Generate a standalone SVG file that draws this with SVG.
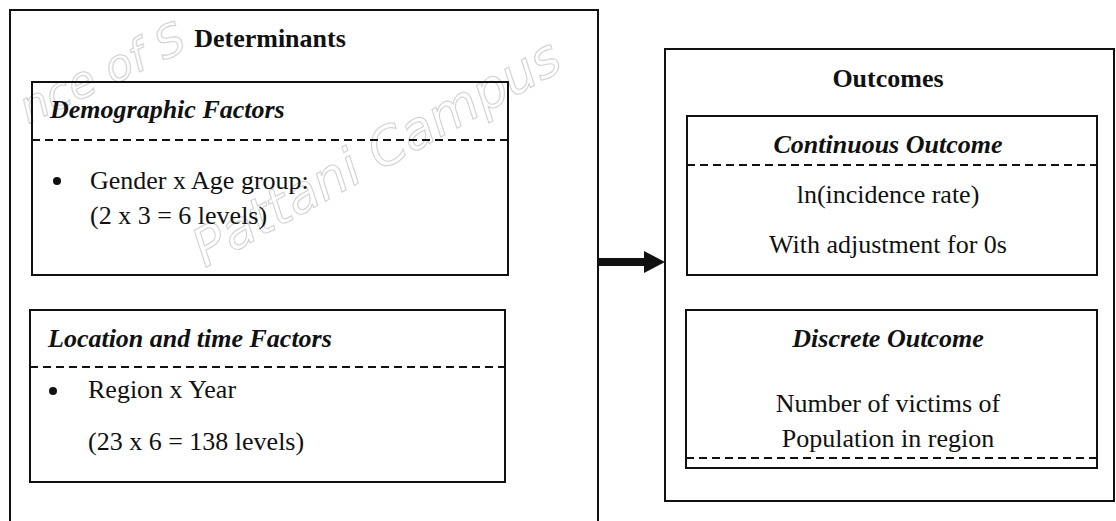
<svg xmlns="http://www.w3.org/2000/svg" width="1116" height="521" viewBox="0 0 1116 521">
<style>
.box{fill:none;stroke:#111;stroke-width:2}
.dash{fill:none;stroke:#111;stroke-width:2;stroke-dasharray:8 5}
.t{font-family:"Liberation Serif","Times New Roman",serif;font-size:26px;fill:#111}
.b{font-weight:bold}
.bi{font-weight:bold;font-style:italic}
.c{text-anchor:middle}
.wm{font-family:"DejaVu Sans",sans-serif;font-style:italic;font-size:52px;fill:none;stroke:#d2d2d2;stroke-width:1.1}
</style>
<rect width="1116" height="521" fill="#fff"/>
<g id="watermark">
<text class="wm" style="font-size:44px" transform="translate(28,124) rotate(-25)">nce of S</text>
<text class="wm" transform="translate(205,268) rotate(-29)">Pattani Campus</text>
</g>
<g id="determinants">
<path class="box" d="M10,521 V10 H598 V521"/>
<text class="t b c" x="270" y="47">Determinants</text>
</g>
<g id="demographic">
<rect class="box" x="32" y="82" width="476" height="193"/>
<line class="dash" x1="32" y1="140" x2="508" y2="140"/>
<text class="t bi" x="50" y="118">Demographic Factors</text>
<circle cx="57" cy="181" r="4" fill="#111"/>
<text class="t" x="90" y="189">Gender x Age group:</text>
<text class="t" x="90" y="224">(2 x 3 = 6 levels)</text>
</g>
<g id="location">
<rect class="box" x="30" y="310" width="475" height="172"/>
<line class="dash" x1="30" y1="367" x2="505" y2="367"/>
<text class="t bi" x="48" y="347">Location and time Factors</text>
<circle cx="53" cy="391" r="4" fill="#111"/>
<text class="t" x="88" y="398">Region x Year</text>
<text class="t" x="88" y="450">(23 x 6 = 138 levels)</text>
</g>
<g id="outcomes">
<rect class="box" x="665" y="49" width="449" height="452"/>
<text class="t b c" x="888" y="87">Outcomes</text>
</g>
<g id="continuous">
<rect class="box" x="687" y="116" width="410" height="159"/>
<line class="dash" x1="687" y1="165" x2="1097" y2="165"/>
<text class="t bi c" x="888" y="153">Continuous Outcome</text>
<text class="t c" x="888" y="203">ln(incidence rate)</text>
<text class="t c" x="888" y="253">With adjustment for 0s</text>
</g>
<g id="discrete">
<rect class="box" x="686" y="310" width="411" height="158"/>
<line class="dash" x1="686" y1="458" x2="1097" y2="458"/>
<text class="t bi c" x="888" y="347">Discrete Outcome</text>
<text class="t c" x="888" y="412">Number of victims of</text>
<text class="t c" x="888" y="447">Population in region</text>
</g>
<g id="connectors">
<line x1="598" y1="262" x2="646" y2="262" stroke="#111" stroke-width="8"/>
<path d="M644,251 L665,262 L644,273 Z" fill="#111"/>
</g>
</svg>
